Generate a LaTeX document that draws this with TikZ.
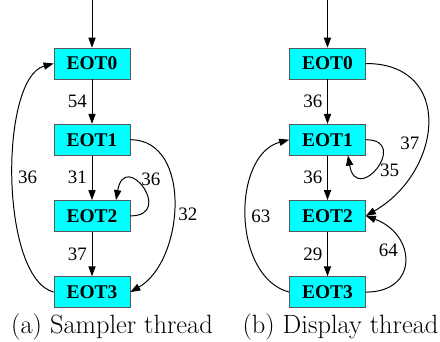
\documentclass[tikz,border=0pt]{standalone}
\usepackage{fontspec}
\newfontfamily\timesfont{Liberation Serif}
\usepackage{tikz}
\usetikzlibrary{arrows.meta, positioning}
\definecolor{eotCyan}{RGB}{0, 255, 255}

\begin{document}
\begin{tikzpicture}[
    % Node styles
    block/.style={
        rectangle,
        minimum width=1.9cm,
        minimum height=0.775cm,
        inner sep=0pt,
        fill=eotCyan,
        draw=black!65,
        line width=0.5pt,
        font=\fontsize{13.8}{16}\selectfont\timesfont\bfseries
    },
    % Arrow style
    arrow/.style={
        -{Triangle[length=0.25cm, width=0.18cm]},
        line width=0.7pt,
        draw=black
    },
    % Edge count style
    annot/.style={
        font=\fontsize{13.5}{15}\selectfont\timesfont,
        text=black
    },
    % Sub-caption style
    caption/.style={
        font=\fontsize{18.8}{22}\selectfont,
        anchor=base,
        inner sep=0pt
    }
]
\useasboundingbox (0,0) rectangle (11,-8.55);

% ============================================
% (a) SAMPLER THREAD
% ============================================
\coordinate (sTop) at (2.3, 0);
\node[block] (sEOT0) at (2.3, -1.5875) {EOT0};
\node[block, below=1.1125cm of sEOT0] (sEOT1) {EOT1};
\node[block, below=1.1125cm of sEOT1] (sEOT2) {EOT2};
\node[block, below=1.1125cm of sEOT2] (sEOT3) {EOT3};

\draw[arrow] (sTop) -- (sEOT0.north);
\draw[arrow] (sEOT0) -- (sEOT1) node[annot, midway, left] {54};
\draw[arrow] (sEOT1) -- (sEOT2) node[annot, midway, left] {31};
\draw[arrow] (sEOT2) -- (sEOT3) node[annot, midway, left] {37};

% back edge EOT3 -> EOT0
\draw[arrow] (sEOT3.west) to[out=165, in=195, looseness=0.63]
    node[annot, midway, right] {36} (sEOT0.west);

% EOT1 -> EOT3
\draw[arrow] (sEOT1.east) to[out=0, in=30, looseness=1.05]
    node[annot, pos=0.55, right] {32} (sEOT3.east);

% self loop on EOT2
\draw[arrow] (sEOT2.east) .. controls +(0:1.125) and +(80:1.3) .. ([xshift=0.6cm]sEOT2.north)
    node[annot, pos=0.55, anchor=south west, inner sep=0pt] {36};

\node[caption] (capA) at (2.8, -8.325) {(a) Sampler thread};

% ============================================
% (b) DISPLAY THREAD
% ============================================
\coordinate (dTop) at (8.1875, 0);
\node[block] (dEOT0) at (8.1875, -1.5875) {EOT0};
\node[block, below=1.1125cm of dEOT0] (dEOT1) {EOT1};
\node[block, below=1.1125cm of dEOT1] (dEOT2) {EOT2};
\node[block, below=1.1125cm of dEOT2] (dEOT3) {EOT3};

\draw[arrow] (dTop) -- (dEOT0.north);
\draw[arrow] (dEOT0) -- (dEOT1) node[annot, midway, left] {36};
\draw[arrow] (dEOT1) -- (dEOT2) node[annot, midway, left] {36};
\draw[arrow] (dEOT2) -- (dEOT3) node[annot, midway, left] {29};

% EOT0 -> EOT2
\draw[arrow] (dEOT0.east) to[out=0, in=30, looseness=1.49]
    node[annot, pos=0.6, left] {37} (dEOT2.east);

% self loop on EOT1
\draw[arrow] (dEOT1.east) .. controls +(0:1.125) and +(-80:1.3) .. ([xshift=0.51cm]dEOT1.south)
    node[annot, pos=0.45, anchor=north west, inner sep=0pt] {35};

% back edge EOT3 -> EOT1
\draw[arrow] (dEOT3.west) to[out=165, in=195, looseness=1.0]
    node[annot, midway, right] {63} (dEOT1.west);

% back edge EOT3 -> EOT2
\draw[arrow] (dEOT3.east) to[out=0, in=-20, looseness=1.8]
    node[annot, pos=0.6, left] {64} (dEOT2.east);

\node[caption] (capB) at (8.5125, -8.325) {(b) Display thread};

\end{tikzpicture}
\end{document}
